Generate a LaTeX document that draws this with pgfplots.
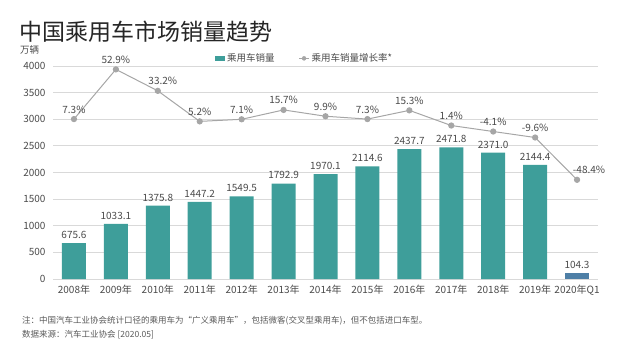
\documentclass[border=0pt]{standalone}
\usepackage{pgfplots}
\pgfplotsset{compat=1.18}
\usepackage{pgfplotstable}
\usepackage{fontspec}
\setmainfont{Noto Sans CJK SC}
\definecolor{teal1}{HTML}{3E9E9A}
\definecolor{blue1}{HTML}{4E7FA6}
\definecolor{lgray}{HTML}{A6A6A6}
\definecolor{grid1}{HTML}{D9D9D9}
\definecolor{txt}{HTML}{4A4A4A}
\pgfplotstableread{
x sales
0 675.6
1 1033.1
2 1375.8
3 1447.2
4 1549.5
5 1792.9
6 1970.1
7 2114.6
8 2437.7
9 2471.8
10 2371.0
11 2144.4
}\salesdata
\pgfplotstableread{
x sales
12 104.3
}\qdata
\pgfplotstableread{
x r dx
0 7.3 0
1 52.9 0
2 33.2 5
3 5.2 0
4 7.1 0
5 15.7 0
6 9.9 0
7 7.3 0
8 15.3 0
9 1.4 0
10 -4.1 0
11 -9.6 0
12 -48.4 12
}\ratedata
\begin{document}
\begin{tikzpicture}[x=1bp,y=1bp]
\path (0,0) rectangle (620,348);
\node[anchor=west, inner sep=0, font=\fontsize{23bp}{26bp}\selectfont, text=black!85] at (19,316) {中国乘用车市场销量趋势};
\node[anchor=west, inner sep=0, font=\fontsize{9.5bp}{11bp}\selectfont, text=txt] at (20,298) {万辆};
\begin{axis}[
  at={(53bp,69bp)}, anchor=south west,
  width=545bp, height=213bp, scale only axis,
  xmin=-0.5, xmax=12.5, ymin=0, ymax=4000,
  axis line style={draw=none},
  ymajorgrids, grid style={grid1, line width=0.8bp},
  major tick length=0,
  ytick={0,500,...,4000},
  xtick={0,...,12},
  xticklabels={2008年,2009年,2010年,2011年,2012年,2013年,2014年,2015年,2016年,2017年,2018年,2019年,2020年Q1},
  /pgf/number format/assume math mode=true,
  /pgf/number format/1000 sep={},
  tick label style={font=\fontsize{10bp}{12bp}\selectfont, text=txt},
  yticklabel style={xshift=-4bp},
  xticklabel style={yshift=-3bp},
  ybar, bar width=24bp, bar shift=0pt,
  nodes near coords={\pgfmathprintnumber[fixed,fixed zerofill,precision=1]{\pgfplotspointmeta}},
  every node near coord/.append style={font=\fontsize{10bp}{12bp}\selectfont, text=txt, yshift=1bp},
  legend style={at={(rel axis cs:0.297,1.036)}, anchor=west, draw=none, fill=none,
    legend columns=2, font=\fontsize{9.5bp}{11bp}\selectfont, text=txt,
    /tikz/every even column/.append style={column sep=22bp}, inner sep=0pt},
  legend cell align=left,
]
\addplot[fill=teal1, draw=none, legend image code/.code={\fill[teal1] (0bp,-2.5bp) rectangle (10bp,2.5bp);}] table[x=x,y=sales] {\salesdata};
\addlegendentry{乘用车销量}
\addplot[fill=blue1, draw=none, forget plot] table[x=x,y=sales] {\qdata};
\addlegendimage{legend image code/.code={\draw[lgray, line width=1bp] (0bp,0bp) -- (10bp,0bp); \fill[lgray] (5bp,0bp) circle (2bp);}}
\addlegendentry{乘用车销量增长率*}
\end{axis}
\begin{axis}[
  at={(53bp,69bp)}, anchor=south west,
  width=545bp, height=213bp, scale only axis,
  xmin=-0.5, xmax=12.5, ymin=-139.4, ymax=56,
  hide axis,
  /pgf/number format/assume math mode=true,
]
\addplot[lgray, line width=1bp, mark=*, mark size=2.6bp, mark options={fill=lgray, draw=lgray},
  visualization depends on={\thisrow{dx} \as \dx},
  nodes near coords={\pgfmathprintnumber[fixed,fixed zerofill,precision=1]{\pgfplotspointmeta}\%},
  every node near coord/.append style={font=\fontsize{10bp}{12bp}\selectfont, text=txt, anchor=south, yshift=2bp, xshift=\dx*1bp},
] table[x=x,y=r] {\ratedata};
\end{axis}
\node[anchor=west, inner sep=0, font=\fontsize{8.5bp}{10bp}\selectfont, text=black!65] at (22,27) {注：中国汽车工业协会统计口径的乘用车为“广义乘用车”，包括微客(交叉型乘用车)，但不包括进口车型。};
\node[anchor=west, inner sep=0, font=\fontsize{8.5bp}{10bp}\selectfont, text=black!65] at (22,13) {数据来源：汽车工业协会 [2020.05]};
\end{tikzpicture}
\end{document}
